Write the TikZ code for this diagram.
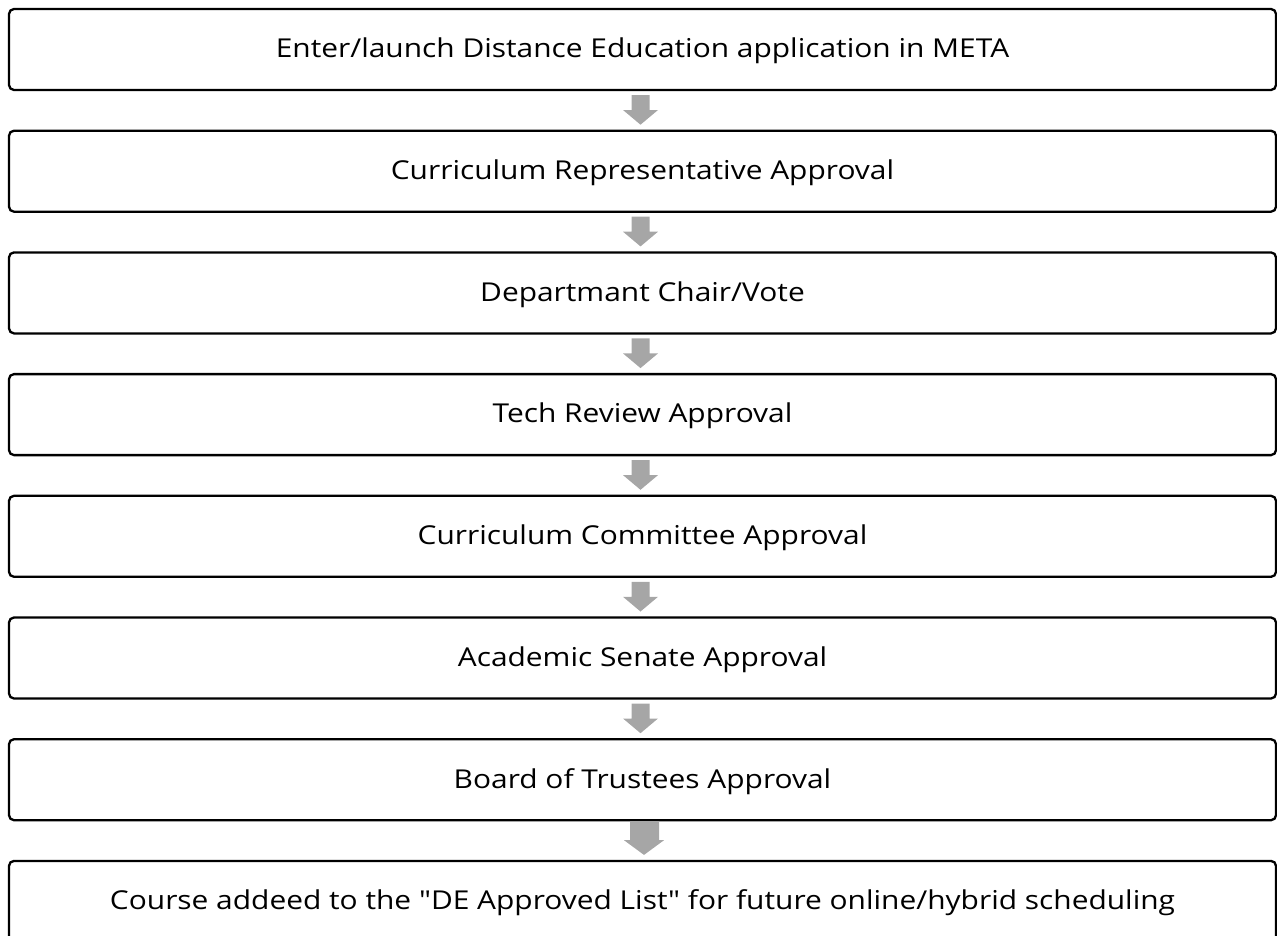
\documentclass[tikz,border=0pt]{standalone}
\usepackage{fontspec}
\setmainfont[FakeStretch=1.15, Ligatures=TeXOff]{Open Sans}
\usetikzlibrary{calc}
\definecolor{arrowgray}{HTML}{A6A6A6}
\tikzset{
  stepbox/.style={draw=black, line width=2.3pt, rounded corners=5pt, fill=white,
    minimum width=1267pt, minimum height=81pt, inner sep=0pt, outer sep=0pt,
    text height=20pt, text depth=3.4pt,
    font=\fontsize{26}{30}\selectfont, text=black},
  flowarrow/.style={fill=arrowgray, draw=none}
}
\begin{document}
\begin{tikzpicture}[x=1pt, y=-1pt]
  \useasboundingbox (0,0) rectangle (1277,935);
  \clip (0,0) rectangle (1277,935);
  \node[stepbox] (s1) at (642.5, 49.5)  {Enter/launch Distance Education application in META};
  \node[stepbox] (s2) at (642.5, 171.2) {Curriculum Representative Approval};
  \node[stepbox] (s3) at (642.5, 292.9) {Departmant Chair/Vote};
  \node[stepbox] (s4) at (642.5, 414.6) {Tech Review Approval};
  \node[stepbox] (s5) at (642.5, 536.3) {Curriculum Committee Approval};
  \node[stepbox] (s6) at (642.5, 658.0) {Academic Senate Approval};
  \node[stepbox] (s7) at (642.5, 779.7) {Board of Trustees Approval};
  \node[stepbox] (s8) at (642.5, 901.4) {Course addeed to the "DE Approved List" for future online/hybrid scheduling};
  % block arrows linking consecutive steps
  \foreach \a/\b in {s1/s2, s2/s3, s3/s4, s4/s5, s5/s6, s6/s7} {
    \fill[flowarrow]
      ($(\a.south)+(-11,5)$) -- ($(\a.south)+(7,5)$) -- ($(\a.south)+(7,20)$)
      -- ($(\a.south)+(15.5,20)$) -- ($(\b.north)+(-2,-6)$)
      -- ($(\a.south)+(-19.5,20)$) -- ($(\a.south)+(-11,20)$) -- cycle;
  }
  \fill[flowarrow]
    ($(s7.south)+(-12.5,2)$) -- ($(s7.south)+(16.5,2)$) -- ($(s7.south)+(16.5,20)$)
    -- ($(s7.south)+(21.5,20)$) -- ($(s8.north)+(1.5,-6)$)
    -- ($(s7.south)+(-18.5,20)$) -- ($(s7.south)+(-12.5,20)$) -- cycle;
\end{tikzpicture}
\end{document}
